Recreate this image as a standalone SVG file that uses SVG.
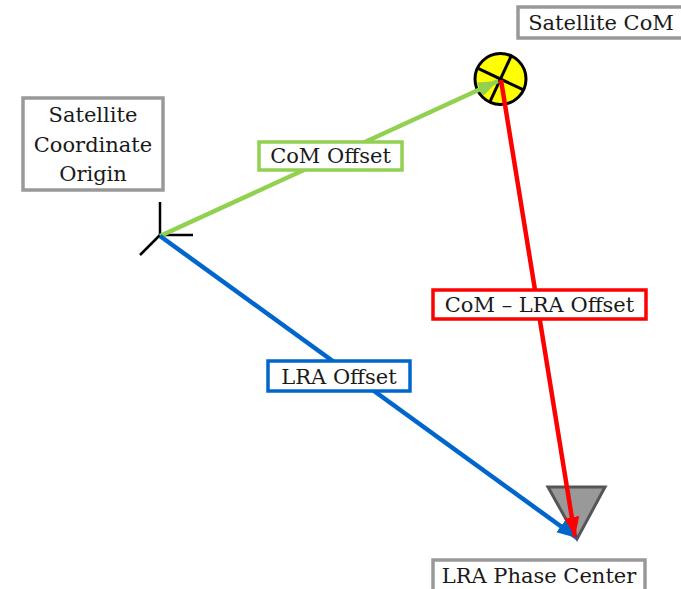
<svg xmlns="http://www.w3.org/2000/svg" width="681" height="589" viewBox="0 0 681 589">
<style>
.lbl{font-family:"DejaVu Serif","Liberation Serif",serif;font-size:21px;fill:#1a1a1a;text-anchor:middle}
.gbox{fill:#fff;stroke:#999;stroke-width:3.5}
</style>
<defs>
<marker id="ag" markerUnits="userSpaceOnUse" markerWidth="22" markerHeight="18" viewBox="0 0 22 18" refX="20" refY="9" orient="auto"><path d="M0,1.5 L20,9 L0,16.5 Z" fill="#92D050"/></marker>
<marker id="ab" markerUnits="userSpaceOnUse" markerWidth="22" markerHeight="18" viewBox="0 0 22 18" refX="20" refY="9" orient="auto"><path d="M0,1.5 L20,9 L0,16.5 Z" fill="#0066CC"/></marker>
<marker id="ar" markerUnits="userSpaceOnUse" markerWidth="22" markerHeight="18" viewBox="0 0 22 18" refX="20" refY="9" orient="auto"><path d="M0,1.5 L20,9 L0,16.5 Z" fill="#FF0000"/></marker>
</defs>
<rect width="681" height="589" fill="#fff"/>
<g id="origin">
<rect class="gbox" x="23" y="98" width="140" height="92"/>
<text class="lbl" x="93" y="122">Satellite</text>
<text class="lbl" x="93" y="152">Coordinate</text>
<text class="lbl" x="93" y="181">Origin</text>
<g stroke="#000" stroke-width="2.5" fill="none">
<line x1="160" y1="235" x2="160" y2="202"/>
<line x1="160" y1="235" x2="193" y2="235"/>
<line x1="160" y1="235" x2="140" y2="255"/>
</g>
</g>
<g id="com">
<rect class="gbox" x="518" y="7" width="170" height="31"/>
<text class="lbl" x="601" y="30">Satellite CoM</text>
<circle cx="500.5" cy="79" r="25.5" fill="#FFFF00" stroke="#000" stroke-width="3"/>
<line x1="490" y1="101.6" x2="511" y2="56.4" stroke="#000" stroke-width="3"/>
<line x1="478" y1="68.4" x2="523" y2="89.6" stroke="#000" stroke-width="3"/>
</g>
<g id="lra">
<path d="M548,487 L605,487 L577,539 Z" fill="#999" stroke="#555" stroke-width="3" stroke-linejoin="miter"/>
<rect class="gbox" x="433" y="560" width="212" height="31"/>
<text class="lbl" x="539" y="583">LRA Phase Center</text>
</g>
<g id="connectors" fill="none" stroke-width="4.5">
<line x1="160" y1="236" x2="498" y2="81" stroke="#92D050" marker-end="url(#ag)"/>
<line x1="160" y1="236" x2="577" y2="538" stroke="#0066CC" marker-end="url(#ab)"/>
<line x1="501" y1="80" x2="575" y2="537" stroke="#FF0000" marker-end="url(#ar)"/>
</g>
<g id="label-com-offset">
<rect x="259" y="142" width="143" height="28" fill="#fff" stroke="#92D050" stroke-width="3.5"/>
<text class="lbl" x="330.5" y="163">CoM Offset</text>
</g>
<g id="label-com-lra">
<rect x="433" y="290" width="213" height="29" fill="#fff" stroke="#FF0000" stroke-width="3.5"/>
<text class="lbl" x="539.5" y="312">CoM – LRA Offset</text>
</g>
<g id="label-lra-offset">
<rect x="268" y="361" width="142" height="30" fill="#fff" stroke="#0066CC" stroke-width="3.5"/>
<text class="lbl" x="339" y="384">LRA Offset</text>
</g>
</svg>
